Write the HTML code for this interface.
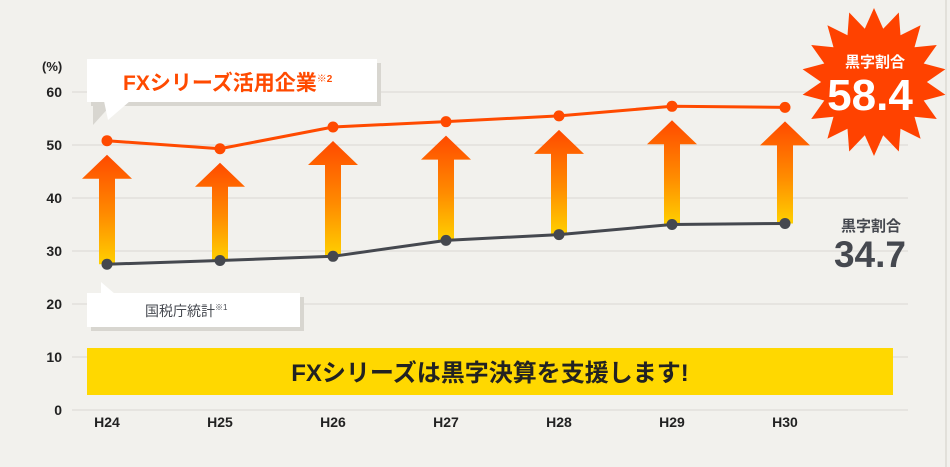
<!DOCTYPE html>
<html><head><meta charset="utf-8"><style>
html,body{margin:0;padding:0;background:#f2f1ed;}
svg{display:block;font-family:"Liberation Sans","Noto Sans CJK JP",sans-serif;}
</style></head><body>
<svg id="chart" width="950" height="467" viewBox="0 0 950 467">
<defs>
<linearGradient id="ag" x1="0" y1="0" x2="0" y2="1">
<stop offset="0" stop-color="#ff4a00"/><stop offset="0.55" stop-color="#ff8c00"/><stop offset="1" stop-color="#ffd000"/>
</linearGradient>
</defs>
<rect x="0" y="0" width="950" height="467" fill="#f2f1ed"/>
<line x1="946" y1="0" x2="946" y2="467" stroke="#e2e0da" stroke-width="2"/>
<g id="grid"></g>
<g id="yticks"></g>
<text x="42" y="71" font-size="13" font-weight="bold" fill="#222">(%)</text>
<g id="arrows"></g>
<g id="lines"></g>
<g id="xticks"></g>

<g>
<polygon points="93,104 112,104 93,125" fill="#d8d6d0"/>
<rect x="91" y="63" width="290" height="43" fill="#d8d6d0"/>
<rect x="87" y="59" width="290" height="43" fill="#fff"/>
<polygon points="104,101 130,101 108,120" fill="#fff"/>
<text x="123" y="90" font-size="21" font-weight="bold" fill="#ff4a00">FXシリーズ活用企業<tspan font-size="10" dy="-8">※2</tspan></text>
</g>

<g>
<rect x="91" y="297" width="213" height="34" fill="#d8d6d0"/>
<rect x="87" y="293" width="213" height="34" fill="#fff"/>
<polygon points="101,294 101,282 115,294" fill="#fff"/>
<text x="145" y="316" font-size="14" fill="#45484f">国税庁統計<tspan font-size="8" dy="-6">※1</tspan></text>
</g>

<g>
<rect x="87" y="348" width="806" height="47" fill="#ffd800"/>
<text x="490" y="381" text-anchor="middle" font-size="24" font-weight="bold" fill="#222">FXシリーズは黒字決算を支援します!</text>
</g>

<g>
<polygon id="burst" fill="#ff4200"/>
<text x="875" y="67" text-anchor="middle" font-size="15" font-weight="bold" fill="#fff">黒字割合</text>
<text x="870" y="110" text-anchor="middle" font-size="44" font-weight="bold" fill="#fff">58.4</text>
</g>
<g>
<text x="871" y="231" text-anchor="middle" font-size="15" font-weight="bold" fill="#45484f">黒字割合</text>
<text x="870" y="267" text-anchor="middle" font-size="37" font-weight="bold" fill="#45484f">34.7</text>
</g>
</svg>
<script>
const categories = ["H24","H25","H26","H27","H28","H29","H30"];
const fxValues = [50.8, 49.3, 53.4, 54.4, 55.5, 57.3, 57.1];
const taxValues = [27.5, 28.2, 29.0, 32.0, 33.1, 35.0, 35.2];
const yTicks = [0,10,20,30,40,50,60];

const NS="http://www.w3.org/2000/svg";
const svg=document.getElementById('chart');
function y(v){return 410 - v*5.3;}
function x(i){return 107 + i*(785-107)/(categories.length-1);}
function mk(tag,attrs,parent){const e=document.createElementNS(NS,tag);for(const k in attrs)e.setAttribute(k,attrs[k]);parent.appendChild(e);return e;}

const grid=document.getElementById('grid'), yt=document.getElementById('yticks');
yTicks.forEach(t=>{
  const l=mk('line',{x1:72,x2:908,y1:y(t),y2:y(t),stroke:'#d9d7d2','stroke-width':1},grid);
  
  
  const tx=mk('text',{x:62,y:y(t)+5,'text-anchor':'end','font-size':14,'font-weight':'bold',fill:'#222'},yt);
  tx.textContent=t;
  
  
});
const xt=document.getElementById('xticks');
categories.forEach((c,i)=>{
  const tx=mk('text',{x:x(i),y:427,'text-anchor':'middle','font-size':14,'font-weight':'bold',fill:'#222'},xt);
  tx.textContent=c;
  
  
});
const ar=document.getElementById('arrows');
categories.forEach((c,i)=>{
  const cx=x(i), top=y(fxValues[i])+14, bot=y(taxValues[i]), hb=top+24;
  const p=mk('polygon',{points:`${cx},${top} ${cx+25},${hb} ${cx+8},${hb} ${cx+8},${bot} ${cx-8},${bot} ${cx-8},${hb} ${cx-25},${hb}`,fill:'url(#ag)'},ar);
  
  
});
const ln=document.getElementById('lines');
function series(vals,color,name){
  const pl=mk('polyline',{points:vals.map((v,i)=>x(i)+','+y(v)).join(' '),fill:'none',stroke:color,'stroke-width':3},ln);
  
  
  vals.forEach((v,i)=>{
    const c=mk('circle',{cx:x(i),cy:y(v),r:5.5,fill:color},ln);
    
    
  });
}
series(taxValues,'#45484f','tax');
series(fxValues,'#ff4a00','fx');

const pts=[];const n=18,cx0=874,cy0=82;
for(let i=0;i<n*2;i++){const a=Math.PI*2*i/(n*2)-Math.PI/2;const r=i%2?54:74;pts.push((cx0+r*Math.cos(a)*0.98).toFixed(1)+','+(cy0+r*Math.sin(a)).toFixed(1));}
document.getElementById('burst').setAttribute('points',pts.join(' '));
</script>
</body></html>
